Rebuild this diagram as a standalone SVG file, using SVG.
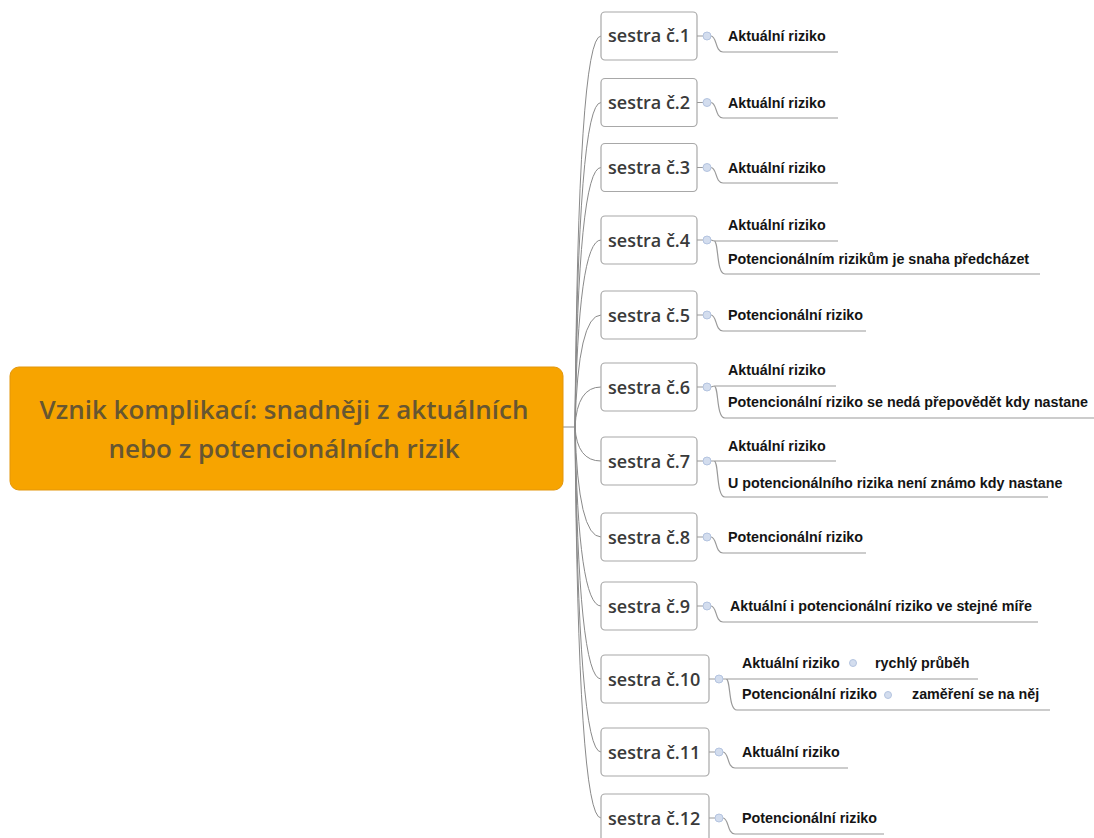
<svg xmlns="http://www.w3.org/2000/svg" width="1094" height="838" viewBox="0 0 1094 838">
  <style>
    .root-box { fill: #f7a400; stroke: #e3960a; stroke-width: 1; }
    .root-text { font-family: "Open Sans", "Liberation Sans", sans-serif; font-weight: 600; font-size: 26px; fill: #675631; text-anchor: middle; }
    .node-box { fill: #ffffff; stroke: #a8a8a8; stroke-width: 1.2; }
    .node-text { font-family: "Open Sans", "Liberation Sans", sans-serif; font-weight: 600; font-size: 18px; fill: #3a3a3a; }
    .leaf-text { font-family: "Liberation Sans", Arial, sans-serif; font-weight: bold; font-size: 14.3px; fill: #141414; }
    .trunk { fill: none; stroke: #8a8a8a; stroke-width: 1; }
    .branch { fill: none; stroke: #9a9a9a; stroke-width: 1.2; }
    .dot { fill: #d3ddee; stroke: #b4c4e0; stroke-width: 1; }
  </style>

  <rect width="1094" height="838" fill="#ffffff"/>

  <!-- connectors from the central topic to each nurse node -->
  <g id="connectors" class="trunk">
    <path d="M563 427 H575"/>
    <path d="M575 427 Q578 36 601 36"/>
    <path d="M575 427 Q578 102.5 601 102.5"/>
    <path d="M575 427 Q578 167.5 601 167.5"/>
    <path d="M575 427 Q578 240 601 240"/>
    <path d="M575 427 Q578 315 601 315"/>
    <path d="M575 427 Q577 387 601 387"/>
    <path d="M575 427 Q577 461 601 461"/>
    <path d="M575 427 Q578 537 601 537"/>
    <path d="M575 427 Q578 606 601 606"/>
    <path d="M575 427 Q578 679 601 679"/>
    <path d="M575 427 Q578 752 601 752"/>
    <path d="M575 427 Q578 818 601 818"/>
  </g>

  <!-- central topic -->
  <g id="root">
    <rect class="root-box" x="10" y="367" width="553" height="123" rx="9"/>
    <text class="root-text" x="284" y="419">Vznik komplikací: snadněji z aktuálních</text>
    <text class="root-text" x="284" y="458">nebo z potencionálních rizik</text>
  </g>

  <!-- nurse 1 -->
  <g id="sestra1">
    <rect class="node-box" x="601" y="12" width="96" height="48" rx="4"/>
    <text class="node-text" x="608" y="42">sestra č.1</text>
    <path class="branch" d="M697 36 H703 M711 36 C717 36 715 52 723 52 H838"/>
    <circle class="dot" cx="707" cy="36" r="4"/>
    <text class="leaf-text" x="728" y="41">Aktuální riziko</text>
  </g>

  <!-- nurse 2 -->
  <g id="sestra2">
    <rect class="node-box" x="601" y="78.5" width="96" height="48" rx="4"/>
    <text class="node-text" x="608" y="109">sestra č.2</text>
    <path class="branch" d="M697 102.5 H703 M711 102.5 C717 102.5 715 118 723 118 H838"/>
    <circle class="dot" cx="707" cy="102.5" r="4"/>
    <text class="leaf-text" x="728" y="107.5">Aktuální riziko</text>
  </g>

  <!-- nurse 3 -->
  <g id="sestra3">
    <rect class="node-box" x="601" y="143.5" width="96" height="48" rx="4"/>
    <text class="node-text" x="608" y="174">sestra č.3</text>
    <path class="branch" d="M697 167.5 H703 M711 167.5 C717 167.5 715 183 723 183 H838"/>
    <circle class="dot" cx="707" cy="167.5" r="4"/>
    <text class="leaf-text" x="728" y="172.5">Aktuální riziko</text>
  </g>

  <!-- nurse 4 -->
  <g id="sestra4">
    <rect class="node-box" x="601" y="216" width="96" height="48" rx="4"/>
    <text class="node-text" x="608" y="246.5">sestra č.4</text>
    <path class="branch" d="M697 240 H703 M711 240 Q713 241 716 241 H838 M714 241 C719 241 716 274 725 274 H1040"/>
    <circle class="dot" cx="707" cy="240" r="4"/>
    <text class="leaf-text" x="728" y="230">Aktuální riziko</text>
    <text class="leaf-text" x="728" y="264">Potencionálním rizikům je snaha předcházet</text>
  </g>

  <!-- nurse 5 -->
  <g id="sestra5">
    <rect class="node-box" x="601" y="291" width="96" height="48" rx="4"/>
    <text class="node-text" x="608" y="321.5">sestra č.5</text>
    <path class="branch" d="M697 315 H703 M711 315 C717 315 715 331 723 331 H866"/>
    <circle class="dot" cx="707" cy="315" r="4"/>
    <text class="leaf-text" x="728" y="320">Potencionální riziko</text>
  </g>

  <!-- nurse 6 -->
  <g id="sestra6">
    <rect class="node-box" x="601" y="363" width="96" height="48" rx="4"/>
    <text class="node-text" x="608" y="393.5">sestra č.6</text>
    <path class="branch" d="M697 387 H703 M711 387 Q713 386 716 386 H836 M714 386 C719 386 716 418 725 418 H1094"/>
    <circle class="dot" cx="707" cy="387" r="4"/>
    <text class="leaf-text" x="728" y="375">Aktuální riziko</text>
    <text class="leaf-text" x="728" y="407">Potencionální riziko se nedá přepovědět kdy nastane</text>
  </g>

  <!-- nurse 7 -->
  <g id="sestra7">
    <rect class="node-box" x="601" y="437" width="96" height="48" rx="4"/>
    <text class="node-text" x="608" y="467.5">sestra č.7</text>
    <path class="branch" d="M697 461 H703 M711 461 H836 M714 461 C719 461 716 497 725 497 H1048"/>
    <circle class="dot" cx="707" cy="461" r="4"/>
    <text class="leaf-text" x="728" y="451">Aktuální riziko</text>
    <text class="leaf-text" x="728" y="488">U potencionálního rizika není známo kdy nastane</text>
  </g>

  <!-- nurse 8 -->
  <g id="sestra8">
    <rect class="node-box" x="601" y="513" width="96" height="48" rx="4"/>
    <text class="node-text" x="608" y="543.5">sestra č.8</text>
    <path class="branch" d="M697 537 H703 M711 537 C717 537 715 553 723 553 H866"/>
    <circle class="dot" cx="707" cy="537" r="4"/>
    <text class="leaf-text" x="728" y="542">Potencionální riziko</text>
  </g>

  <!-- nurse 9 -->
  <g id="sestra9">
    <rect class="node-box" x="601" y="582" width="96" height="48" rx="4"/>
    <text class="node-text" x="608" y="612.5">sestra č.9</text>
    <path class="branch" d="M697 606 H703 M711 606 C717 606 715 622 723 622 H1038"/>
    <circle class="dot" cx="707" cy="606" r="4"/>
    <text class="leaf-text" x="730" y="611">Aktuální i potencionální riziko ve stejné míře</text>
  </g>

  <!-- nurse 10 -->
  <g id="sestra10">
    <rect class="node-box" x="601" y="655" width="108" height="48" rx="4"/>
    <text class="node-text" x="608" y="685.5">sestra č.10</text>
    <path class="branch" d="M709 679 H715 M723 679 H978 M726 679 C731 679 728 710 737 710 H1050"/>
    <circle class="dot" cx="719" cy="679" r="4"/>
    <text class="leaf-text" x="742" y="668">Aktuální riziko</text>
    <circle class="dot" cx="853" cy="663" r="3.5"/>
    <text class="leaf-text" x="875" y="668">rychlý průběh</text>
    <text class="leaf-text" x="742" y="699">Potencionální riziko</text>
    <circle class="dot" cx="888" cy="695" r="3.5"/>
    <text class="leaf-text" x="912" y="699">zaměření se na něj</text>
  </g>

  <!-- nurse 11 -->
  <g id="sestra11">
    <rect class="node-box" x="601" y="728" width="108" height="48" rx="4"/>
    <text class="node-text" x="608" y="758.5">sestra č.11</text>
    <path class="branch" d="M709 752 H715 M723 752 C729 752 727 768 735 768 H848"/>
    <circle class="dot" cx="719" cy="752" r="4"/>
    <text class="leaf-text" x="742" y="757">Aktuální riziko</text>
  </g>

  <!-- nurse 12 -->
  <g id="sestra12">
    <rect class="node-box" x="601" y="794" width="108" height="48" rx="4"/>
    <text class="node-text" x="608" y="824.5">sestra č.12</text>
    <path class="branch" d="M709 818 H715 M723 818 C729 818 727 834 735 834 H884"/>
    <circle class="dot" cx="719" cy="818" r="4"/>
    <text class="leaf-text" x="742" y="823">Potencionální riziko</text>
  </g>
</svg>
